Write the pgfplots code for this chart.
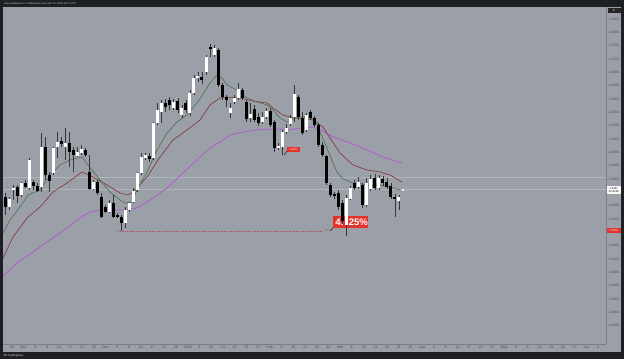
\documentclass[border=0pt]{standalone}
\usepackage{pgfplots}
\pgfplotsset{compat=1.18}
\usepackage{pgfplotstable}
\usepackage{fontspec}
\setmainfont{Liberation Sans}
\definecolor{framec}{RGB}{30,31,34}
\definecolor{bgc}{RGB}{155,159,167}
\definecolor{sepc}{RGB}{122,126,134}
\definecolor{tickc}{RGB}{72,75,82}
\definecolor{wickc}{RGB}{55,55,58}
\definecolor{maG}{RGB}{72,112,76}
\definecolor{maR}{RGB}{132,50,52}
\definecolor{maP}{RGB}{176,86,206}
\definecolor{lblred}{RGB}{226,52,44}
\definecolor{dotred}{RGB}{186,78,92}
\definecolor{faint}{RGB}{176,180,187}

\pgfplotstableread{
i o h l c
1 1.3276 1.3306 1.3267 1.3300
2 1.3327 1.3342 1.3297 1.3333
4 1.3312 1.3351 1.3306 1.3348
6 1.3333 1.3423 1.3327 1.3417
9 1.3336 1.3498 1.3321 1.3456
12 1.3378 1.3456 1.3372 1.3453
13 1.3456 1.3501 1.3423 1.3471
15 1.3456 1.3513 1.3417 1.3468
18 1.3429 1.3456 1.3426 1.3441
19 1.3438 1.3462 1.3432 1.3450
22 1.3330 1.3357 1.3327 1.3351
26 1.3261 1.3297 1.3258 1.3288
30 1.3228 1.3276 1.3213 1.3267
31 1.3267 1.3291 1.3261 1.3288
32 1.3291 1.3333 1.3288 1.3324
33 1.3327 1.3381 1.3321 1.3378
34 1.3378 1.3438 1.3372 1.3426
35 1.3423 1.3438 1.3417 1.3432
37 1.3423 1.3531 1.3417 1.3528
38 1.3528 1.3588 1.3522 1.3567
39 1.3561 1.3597 1.3528 1.3588
42 1.3573 1.3600 1.3567 1.3591
44 1.3552 1.3582 1.3543 1.3573
46 1.3558 1.3627 1.3549 1.3618
47 1.3618 1.3672 1.3612 1.3663
48 1.3663 1.3681 1.3651 1.3669
50 1.3681 1.3732 1.3672 1.3726
52 1.3732 1.3762 1.3726 1.3753
56 1.3558 1.3588 1.3543 1.3573
57 1.3591 1.3612 1.3585 1.3603
58 1.3603 1.3648 1.3597 1.3630
61 1.3543 1.3588 1.3531 1.3555
64 1.3531 1.3561 1.3525 1.3546
65 1.3546 1.3573 1.3540 1.3564
68 1.3453 1.3468 1.3447 1.3459
69 1.3456 1.3507 1.3432 1.3501
70 1.3501 1.3525 1.3495 1.3513
71 1.3525 1.3552 1.3519 1.3543
72 1.3546 1.3642 1.3531 1.3615
75 1.3507 1.3558 1.3501 1.3552
85 1.3222 1.3312 1.3189 1.3303
86 1.3300 1.3339 1.3297 1.3333
88 1.3336 1.3366 1.3330 1.3351
90 1.3282 1.3363 1.3276 1.3348
91 1.3330 1.3372 1.3324 1.3360
93 1.3333 1.3372 1.3327 1.3363
98 1.3294 1.3312 1.3267 1.3306
}\up

\pgfplotstableread{
i o h l c
0 1.3306 1.3318 1.3252 1.3276
3 1.3336 1.3342 1.3288 1.3309
5 1.3348 1.3357 1.3333 1.3336
7 1.3351 1.3357 1.3327 1.3339
8 1.3339 1.3348 1.3321 1.3324
10 1.3456 1.3486 1.3357 1.3372
11 1.3372 1.3381 1.3321 1.3354
14 1.3474 1.3486 1.3456 1.3465
16 1.3468 1.3501 1.3396 1.3441
17 1.3447 1.3456 1.3381 1.3432
20 1.3447 1.3453 1.3426 1.3432
21 1.3381 1.3432 1.3327 1.3330
23 1.3351 1.3357 1.3312 1.3318
24 1.3306 1.3318 1.3243 1.3246
25 1.3276 1.3282 1.3258 1.3261
27 1.3288 1.3312 1.3243 1.3246
28 1.3252 1.3258 1.3243 1.3246
29 1.3246 1.3252 1.3204 1.3228
36 1.3429 1.3438 1.3411 1.3420
40 1.3588 1.3600 1.3561 1.3576
41 1.3597 1.3606 1.3567 1.3582
43 1.3594 1.3603 1.3558 1.3567
45 1.3588 1.3597 1.3558 1.3567
49 1.3666 1.3681 1.3645 1.3657
51 1.3756 1.3765 1.3726 1.3750
53 1.3747 1.3753 1.3636 1.3642
54 1.3642 1.3648 1.3597 1.3606
55 1.3606 1.3612 1.3576 1.3597
59 1.3627 1.3633 1.3597 1.3603
60 1.3591 1.3597 1.3531 1.3540
62 1.3570 1.3582 1.3531 1.3537
63 1.3546 1.3558 1.3519 1.3528
66 1.3564 1.3573 1.3516 1.3522
67 1.3531 1.3537 1.3441 1.3453
73 1.3606 1.3612 1.3537 1.3546
74 1.3543 1.3561 1.3492 1.3498
76 1.3561 1.3567 1.3537 1.3543
77 1.3543 1.3549 1.3516 1.3522
78 1.3522 1.3528 1.3456 1.3462
79 1.3462 1.3471 1.3426 1.3432
80 1.3429 1.3432 1.3342 1.3348
81 1.3342 1.3348 1.3306 1.3312
82 1.3315 1.3321 1.3300 1.3309
83 1.3318 1.3327 1.3267 1.3276
84 1.3288 1.3297 1.3225 1.3234
87 1.3348 1.3357 1.3327 1.3333
89 1.3342 1.3348 1.3273 1.3282
92 1.3363 1.3375 1.3327 1.3333
94 1.3360 1.3369 1.3339 1.3348
95 1.3351 1.3363 1.3330 1.3336
96 1.3339 1.3348 1.3300 1.3306
97 1.3306 1.3315 1.3246 1.3300
}\down

\pgfplotsset{
  candlebar/.style 2 args={only marks, mark=*, mark size=0pt,
    mark options={draw=none, fill=none},
    error bars/.cd, y dir=plus, y explicit, error mark=none,
    error bar style={line width=#1, color=#2, line cap=butt}},
}

\begin{document}
\begin{tikzpicture}[x=1pt,y=1pt]
% frame and panel
\fill[framec] (0,0) rectangle (624,359);
\fill[bgc] (3,7) rectangle (621,352);
% annotation boxes, drawn beneath the candles
\draw[black, line width=0.4pt] (330,128.3) -- (333.5,131.5);
\fill[lblred] (333,131) rectangle (368.3,143);
\node[text=white, font=\fontsize{9.5}{10}\selectfont\bfseries, inner sep=0pt, anchor=west] at (335.2,137) {4.\kern5.5pt25\%};
\node[text=dotred, font=\fontsize{2.8}{3}\selectfont, inner sep=0pt, anchor=east] at (329.5,128.5) {555};
\draw[black, line width=0.4pt] (284.3,204.2) -- (287,208);
\fill[lblred] (286.7,207.3) rectangle (300,211.7);
\node[text=white, font=\fontsize{2.6}{3}\selectfont, inner sep=0pt] at (293.3,209.5) {-6.49\%};

\begin{axis}[
  at={(3pt,15pt)}, anchor=south west,
  scale only axis, width=603pt, height=337pt,
  xmin=-0.4975, xmax=149.5, ymin=1.2865, ymax=1.3876,
  axis x line*=bottom, axis y line*=right,
  axis line style={draw=sepc, line width=0.5pt, -},
  tick style={draw=none},
  xtick={1.741,4.6564,...,148.5},
  xticklabels={28,Nov,5,9,13,17,21,25,Dec,5,9,13,17,21,26,2025,6,10,14,20,23,27,Feb,5,10,13,18,24,Mar,6,10,13,18,21,26,Apr,4,9,14,17,22,27,May,6,9,14,19,22,27,Jun,4},
  ytick={1.2920,1.2960,1.3000,1.3040,1.3080,1.3120,1.3160,1.3240,1.3280,1.3360,1.3400,1.3440,1.3480,1.3520,1.3560,1.3600,1.3640,1.3680,1.3720,1.3760,1.3800,1.3840},
  scaled y ticks=false,
  /pgf/number format/assume math mode=true,
  xticklabel style={font=\fontsize{3.6}{4}\selectfont, text=tickc, inner sep=0pt, anchor=center, yshift=-3.6pt},
  yticklabel style={font=\fontsize{3.4}{4}\selectfont, text=tickc, inner sep=0pt, anchor=west, xshift=2.4pt,
    /pgf/number format/fixed, /pgf/number format/fixed zerofill, /pgf/number format/precision=4},
]
% faint horizontal lines
\addplot[faint, line width=0.5pt] coordinates {(-0.4975,1.3365) (149.5,1.3365)};
\addplot[faint, line width=0.5pt] coordinates {(-0.4975,1.3330) (149.5,1.3330)};
% dotted low line
\addplot[dotred, line width=0.65pt, dash pattern=on 0.9pt off 0.9pt] coordinates {(28.11,1.3204) (78.86,1.3204)};

% moving averages
\addplot[maP, line width=0.7pt] coordinates {
(-0.4975,1.3069) (2.985,1.3108) (6.965,1.3141) (11.194,1.3177) (15.423,1.3213) (18.657,1.3243) (21.144,1.3261) (23.632,1.3267) (27.861,1.3267) (30.348,1.3267) (32.836,1.3273) (36.070,1.3297) (40.299,1.3333) (44.279,1.3378) (48.507,1.3426) (50.995,1.3453) (53.483,1.3471) (55.970,1.3492) (59.204,1.3501) (62.687,1.3507) (65.920,1.3510) (68.408,1.3510) (70.896,1.3507) (73.383,1.3513) (76.617,1.3516) (79.104,1.3504) (81.592,1.3486) (85.821,1.3468) (90.050,1.3447) (94.030,1.3426) (98.756,1.3408)};
\addplot[maR, line width=0.6pt] coordinates {
(-0.4975,1.3123) (1.990,1.3186) (5.473,1.3243) (8.706,1.3276) (11.940,1.3321) (15.423,1.3348) (19.154,1.3381) (21.891,1.3366) (25.373,1.3342) (28.607,1.3318) (30.597,1.3312) (31.841,1.3321) (35.323,1.3366) (38.557,1.3426) (41.791,1.3477) (45.274,1.3507) (48.507,1.3537) (50.995,1.3582) (53.483,1.3603) (55.224,1.3606) (58.458,1.3603) (61.692,1.3594) (65.174,1.3588) (66.667,1.3573) (69.154,1.3552) (71.642,1.3543) (74.129,1.3543) (76.617,1.3537) (79.104,1.3516) (80.348,1.3492) (83.333,1.3438) (86.567,1.3402) (90.050,1.3387) (93.284,1.3381) (95.771,1.3372) (98.756,1.3351)};
\addplot[maG, line width=0.6pt] coordinates {
(-0.4975,1.3198) (1.244,1.3237) (3.731,1.3276) (5.721,1.3312) (8.706,1.3327) (11.194,1.3372) (13.682,1.3402) (16.169,1.3417) (19.154,1.3426) (20.647,1.3402) (23.632,1.3357) (26.119,1.3321) (28.607,1.3297) (29.851,1.3288) (31.592,1.3291) (32.836,1.3327) (35.323,1.3381) (37.811,1.3447) (40.299,1.3498) (42.786,1.3531) (45.274,1.3552) (48.507,1.3600) (50.995,1.3648) (52.736,1.3672) (53.980,1.3663) (55.224,1.3642) (57.711,1.3627) (60.199,1.3603) (62.687,1.3591) (65.174,1.3582) (66.667,1.3567) (68.408,1.3543) (70.149,1.3531) (71.642,1.3540) (73.383,1.3546) (75.871,1.3546) (77.612,1.3528) (78.358,1.3501) (80.100,1.3453) (81.592,1.3408) (82.587,1.3381) (84.080,1.3360) (86.567,1.3348) (89.055,1.3345) (90.796,1.3339) (93.284,1.3342) (95.771,1.3336) (98.259,1.3327)};
\addplot[only marks, mark=*, mark size=0.8pt, mark options={fill=white, draw=white}] coordinates {(99.0,1.3327)};

% wicks
\addplot[candlebar={0.7pt}{wickc}] table[x=i, y=l, y error plus expr=\thisrow{h}-\thisrow{l}] {\up};
\addplot[candlebar={0.7pt}{wickc}] table[x=i, y=l, y error plus expr=\thisrow{h}-\thisrow{l}] {\down};
% bodies
\addplot[candlebar={3pt}{white}] table[x=i, y=o, y error plus expr=\thisrow{c}-\thisrow{o}] {\up};
\addplot[candlebar={3pt}{black}] table[x=i, y=c, y error plus expr=\thisrow{o}-\thisrow{c}] {\down};
\end{axis}

% price-scale labels
\fill[lblred] (607,125.5) rectangle (620.5,130.5);
\node[text=white, font=\fontsize{2.8}{3}\selectfont, inner sep=0pt] at (613.7,128) {1.3204};
\fill[white!92!bgc] (607,165) rectangle (620.5,173);
\node[text=black, font=\fontsize{2.6}{3}\selectfont, inner sep=0pt, align=center] at (613.7,169) {1.3327\\[-0.3pt]12:42:08};
\fill[black!85] (607.5,345.5) rectangle (620.5,351);
\node[text=white, font=\fontsize{2.8}{3}\selectfont, inner sep=0pt] at (614,348.3) {\$};
% header / footer
\node[text=black!22, font=\fontsize{2.6}{3}\selectfont, inner sep=0pt, anchor=west] at (4,355.6) {Jstux published on TradingView.com, Mar 16, 2025 15:17 UTC};
\node[text=black!18, font=\fontsize{2.8}{3}\selectfont, inner sep=0pt, anchor=west] at (3.5,3.6) {\textbf{TV} TradingView};
\end{tikzpicture}
\end{document}
